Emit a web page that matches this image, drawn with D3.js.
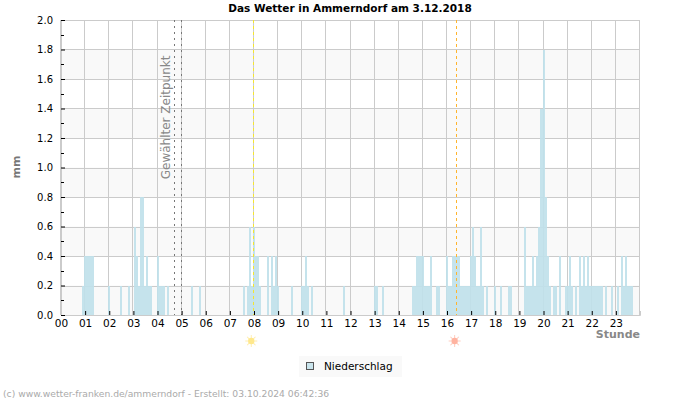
<!DOCTYPE html>
<html>
<head>
<meta charset="utf-8">
<script src="https://cdn.jsdelivr.net/npm/d3@7"></script>
<style>
  html, body { margin: 0; padding: 0; background: #fff; }
  svg { display: block; font-family: "DejaVu Sans", sans-serif; }
</style>
</head>
<body>
<svg width="700" height="400"></svg>
<script>
// mm per 5 minutes, one row per hour
var rain = [
  0,0,0,0,0,0,0,0,0,0,0,.2,
  .4,.4,.4,.4,.4,0,0,0,0,0,0,0,
  .2,0,0,0,0,0,.2,0,0,0,.2,0,
  0,.6,.4,.2,.8,.8,.2,.4,.2,.2,0,0,
  .4,.2,.2,.2,0,.2,0,0,0,0,0,0,
  0,0,0,0,0,.2,0,0,0,.2,0,0,
  0,0,0,0,0,0,0,0,0,0,0,0,
  0,0,0,0,0,0,0,.2,0,.2,.6,.2,
  .6,.4,.4,.2,0,0,0,.4,0,.4,.2,.4,
  .2,0,0,0,0,0,0,.2,0,0,0,0,
  .2,.2,.4,.2,0,.2,0,0,0,0,0,0,
  0,0,0,0,0,0,0,0,0,.2,0,0,
  0,0,0,0,0,0,0,0,0,0,0,0,
  .2,.2,0,0,.2,0,0,0,0,0,0,0,
  0,0,0,0,0,0,0,.2,.2,.4,.4,.4,
  .4,.2,.2,.2,.4,0,0,.2,.2,0,0,0,
  .4,.2,.2,.4,.4,.4,.4,.2,.2,.2,.2,.2,
  .4,.6,.4,.2,.2,.6,.2,0,.2,0,0,0,
  .2,0,0,.2,0,0,0,.2,.2,0,0,0,
  0,0,0,.6,.2,.2,.2,.4,.2,.4,.6,1.4,
  1.8,.8,.4,.2,0,.2,.2,0,.4,0,0,.2,
  .2,.4,.2,0,.2,0,.4,.2,.4,.2,.4,.2,
  .2,.2,.2,.2,.2,.2,0,.2,0,0,.2,0,
  0,.2,0,.4,.2,.4,.2,.2,.2,0,0,0
];
var hourTicks = d3.range(0, 24);
var mmMajor = d3.range(0, 2.01, 0.2);
var mmMinor = d3.range(0.1, 2, 0.2);
var shadedBands = [0, 0.4, 0.8, 1.2, 1.6];
var selectedHours = [4.72, 5];
var sunEvents = [
  { hour: 7.97, line: "#f5e62e", fill: "#ffe88c", ray: "#ffeeb0" },
  { hour: 16.4, line: "#ffb52e", fill: "#ffb3a0", ray: "#ffcdbf" }
];

var svg = d3.select("svg");
var x = d3.scaleLinear().domain([0, 24]).range([61, 640]);
var y = d3.scaleLinear().domain([0, 2]).range([315, 20]);

function barLeft(i) { return Math.round(x(i / 12) - 1); }

// background bands
svg.append("g").selectAll("rect")
  .data(shadedBands)
  .enter().append("rect")
  .attr("x", x(0))
  .attr("width", x(24) - x(0))
  .attr("y", function(d) { return y(d + 0.2); })
  .attr("height", function(d) { return y(d) - y(d + 0.2); })
  .attr("fill", "#f9f9f9");

// grid
var grid = svg.append("g").attr("stroke", "#cbcbcb").attr("shape-rendering", "crispEdges");
grid.selectAll("line.h")
  .data(mmMajor)
  .enter().append("line")
  .attr("x1", x(0)).attr("x2", x(24))
  .attr("y1", function(d) { return Math.round(y(d)); })
  .attr("y2", function(d) { return Math.round(y(d)); });
grid.selectAll("line.v")
  .data(hourTicks.concat([24]))
  .enter().append("line")
  .attr("y1", y(2)).attr("y2", y(0))
  .attr("x1", function(d) { return Math.round(x(d)) - 0.5; })
  .attr("x2", function(d) { return Math.round(x(d)) - 0.5; });

// rain bars, centred on their time
svg.append("g").selectAll("rect")
  .data(rain)
  .enter().append("rect")
  .attr("x", function(d, i) { return barLeft(i); })
  .attr("width", function(d, i) { return barLeft(i + 1) - barLeft(i); })
  .attr("y", function(d) { return y(d); })
  .attr("height", function(d) { return y(0) - y(d); })
  .attr("fill", "#c0e1ea")
  .attr("fill-opacity", 0.92)
  .attr("shape-rendering", "crispEdges");

// marker lines
svg.append("g").selectAll("line")
  .data(selectedHours)
  .enter().append("line")
  .attr("x1", function(d) { return Math.round(x(d)) - 0.5; })
  .attr("x2", function(d) { return Math.round(x(d)) - 0.5; })
  .attr("y1", y(2)).attr("y2", y(0))
  .attr("stroke", "#777")
  .attr("stroke-dasharray", "2,4");

svg.append("g").selectAll("line")
  .data(sunEvents)
  .enter().append("line")
  .attr("x1", function(d) { return Math.floor(x(d.hour)) + 0.5; })
  .attr("x2", function(d) { return Math.floor(x(d.hour)) + 0.5; })
  .attr("y1", y(2)).attr("y2", y(0))
  .attr("stroke", function(d) { return d.line; })
  .attr("stroke-dasharray", "3,3");

svg.append("text")
  .attr("transform", "translate(170," + y(0.92) + ") rotate(-90)")
  .attr("font-size", 12)
  .attr("fill", "#888")
  .text("Gewählter Zeitpunkt");

// axes
var xAxis = d3.axisBottom(x)
  .tickValues(hourTicks)
  .tickSize(-4)
  .tickPadding(5)
  .tickFormat(function(d) { return d3.format("02d")(d); });
var gx = svg.append("g").attr("transform", "translate(0," + y(0) + ")").call(xAxis);
gx.select(".domain").attr("stroke", "#cbcbcb");
gx.selectAll("text").attr("font-size", 10.5).attr("fill", "#000").attr("font-family", "DejaVu Sans");

var yAxis = d3.axisLeft(y)
  .tickValues(mmMajor)
  .tickSize(-4)
  .tickPadding(8)
  .tickFormat(d3.format(".1f"));
var gy = svg.append("g").attr("transform", "translate(" + x(0) + ",0)").call(yAxis);
gy.select(".domain").attr("stroke", "#cbcbcb");
gy.selectAll("text").attr("font-size", 10).attr("fill", "#000").attr("font-family", "DejaVu Sans");

svg.append("g").selectAll("line")
  .data(mmMinor)
  .enter().append("line")
  .attr("x1", x(0)).attr("x2", x(0) + 3)
  .attr("y1", function(d) { return Math.round(y(d)) + 0.5; })
  .attr("y2", function(d) { return Math.round(y(d)) + 0.5; })
  .attr("stroke", "#000");

// sun symbols
sunEvents.forEach(function(s) {
  var cx = x(s.hour) - 2, cy = 341;
  var g = svg.append("g").attr("transform", "translate(" + cx + "," + cy + ")");
  g.selectAll("line")
    .data(d3.range(0, 360, 45))
    .enter().append("line")
    .attr("x1", 0).attr("x2", 0).attr("y1", -3).attr("y2", -6)
    .attr("transform", function(d) { return "rotate(" + d + ")"; })
    .attr("stroke", s.ray);
  g.append("circle").attr("r", 3.2).attr("fill", s.fill);
});

// titles
svg.append("text")
  .attr("x", 350).attr("y", 12)
  .attr("text-anchor", "middle")
  .attr("font-size", 10.5)
  .attr("font-weight", "bold")
  .text("Das Wetter in Ammerndorf am 3.12.2018");

svg.append("text")
  .attr("transform", "translate(20,167) rotate(-90)")
  .attr("text-anchor", "middle")
  .attr("font-size", 11)
  .attr("font-weight", "bold")
  .attr("fill", "#777")
  .text("mm");

svg.append("text")
  .attr("x", 640).attr("y", 338)
  .attr("text-anchor", "end")
  .attr("font-size", 11)
  .attr("font-weight", "bold")
  .attr("fill", "#888")
  .text("Stunde");

// legend
svg.append("rect")
  .attr("x", 299).attr("y", 356).attr("width", 103).attr("height", 21)
  .attr("fill", "#f9f9f9");
svg.append("rect")
  .attr("x", 306.5).attr("y", 362.5).attr("width", 7).attr("height", 7)
  .attr("fill", "#c9e4ec").attr("stroke", "#555");
svg.append("text")
  .attr("x", 324).attr("y", 370)
  .attr("font-size", 10.5)
  .text("Niederschlag");

svg.append("text")
  .attr("x", 3).attr("y", 397)
  .attr("font-size", 9.2)
  .attr("fill", "#aaa")
  .text("(c) www.wetter-franken.de/ammerndorf - Erstellt: 03.10.2024 06:42:36");
</script>
</body>
</html>
